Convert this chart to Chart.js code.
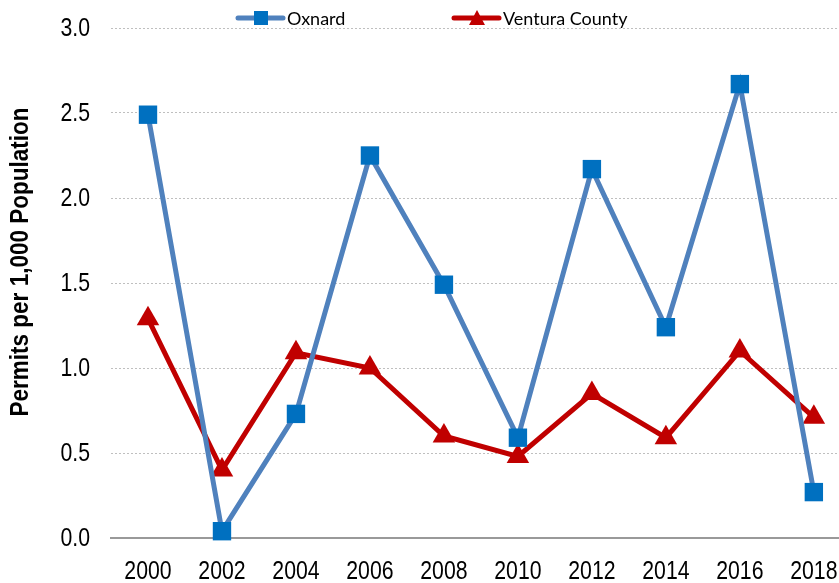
<!DOCTYPE html>
<html>
<head>
<meta charset="utf-8">
<script src="https://cdn.jsdelivr.net/npm/chart.js@4.4.0/dist/chart.umd.min.js"></script>
<style>
  html, body { margin: 0; padding: 0; background: #fff; overflow: hidden; }
  #box { width: 839px; height: 583px; position: relative; }
</style>
</head>
<body>
<div id="box"><canvas id="chart"></canvas></div>
<script>
// datos
const years = [2000, 2002, 2004, 2006, 2008, 2010, 2012, 2014, 2016, 2018];
const oxnard = [2.49, 0.04, 0.73, 2.25, 1.49, 0.59, 2.17, 1.24, 2.67, 0.27];
const ventura = [1.29, 0.40, 1.09, 1.00, 0.60, 0.48, 0.85, 0.59, 1.10, 0.71];
const yTicks = [0, 0.5, 1, 1.5, 2, 2.5, 3];

//Texto estrecho (no hay Arial Narrow instalada, se comprime a mano)
function narrowText(ctx, text, x, y, font, squeeze, align) {
  ctx.save();
  ctx.font = font;
  ctx.textAlign = align;
  ctx.textBaseline = "middle";
  ctx.translate(x, y);
  ctx.scale(squeeze, 1);
  ctx.fillText(text, 0, 0);
  ctx.restore();
}

//Etiquetas de los ejes, titulo del eje Y y leyenda
const labelsPlugin = {
  id: "labelsAndLegend",
  afterDraw(chart) {
    const ctx = chart.ctx;
    const tickFont = "25px 'Liberation Sans', Arial";
    ctx.save();
    ctx.fillStyle = "#000";

    const yScale = chart.scales.y;
    yTicks.forEach((v) => {
      narrowText(ctx, v.toFixed(1), 90, yScale.getPixelForValue(v) + 1, tickFont, 0.85, "right");
    });
    const xScale = chart.scales.x;
    years.forEach((yr) => {
      narrowText(ctx, String(yr), xScale.getPixelForValue(yr), 572, tickFont, 0.85, "center");
    });

    //Titulo del eje Y
    ctx.save();
    ctx.translate(21, 262);
    ctx.rotate(-Math.PI / 2);
    narrowText(ctx, "Permits per 1,000 Population", 0, 0, "bold 25px 'Liberation Sans', Arial", 0.9, "center");
    ctx.restore();

    //Leyenda: linea + marcador + texto
    const items = [
      { x: 238, text: "Oxnard", line: "rgb(79,129,189)", fill: "rgb(0,112,192)", shape: "rect" },
      { x: 454, text: "Ventura County", line: "rgb(192,0,0)", fill: "rgb(192,0,0)", shape: "tri" },
    ];
    const y = 18;
    items.forEach((it) => {
      ctx.strokeStyle = it.line;
      ctx.lineWidth = 5;
      ctx.lineCap = "round";
      ctx.beginPath();
      ctx.moveTo(it.x, y);
      ctx.lineTo(it.x + 45, y);
      ctx.stroke();
      ctx.fillStyle = it.fill;
      const cx = it.x + 23;
      if (it.shape === "rect") {
        ctx.fillRect(cx - 7, y - 7, 14, 14);
      } else {
        ctx.beginPath();
        ctx.moveTo(cx, y - 8);
        ctx.lineTo(cx + 8, y + 7);
        ctx.lineTo(cx - 8, y + 7);
        ctx.closePath();
        ctx.fill();
      }
      ctx.fillStyle = "#000";
      ctx.font = "18px Lato, 'Noto Sans', sans-serif";
      ctx.textBaseline = "middle";
      ctx.textAlign = "left";
      ctx.fillText(it.text, it.x + 49, y + 1);
    });
    ctx.restore();
  },
};

const chart = new Chart(document.getElementById("chart"), {
  type: "line",
  data: {
    datasets: [
      {
        label: "Oxnard",
        data: years.map((yr, i) => ({ x: yr, y: oxnard[i] })),
        borderColor: "rgb(79,129,189)",
        backgroundColor: "rgb(0,112,192)",
        pointBackgroundColor: "rgb(0,112,192)",
        pointBorderWidth: 0,
        pointStyle: "rect",
        pointRadius: 13,
        borderWidth: 5,
        tension: 0,
        clip: false,
      },
      {
        label: "Ventura County",
        data: years.map((yr, i) => ({ x: yr, y: ventura[i] })),
        borderColor: "rgb(192,0,0)",
        backgroundColor: "rgb(192,0,0)",
        pointBackgroundColor: "rgb(192,0,0)",
        pointBorderWidth: 0,
        pointStyle: "triangle",
        pointRadius: 13,
        borderWidth: 5,
        tension: 0,
        clip: false,
      },
    ],
  },
  options: {
    responsive: true,
    maintainAspectRatio: false,
    animation: false,
    layout: { autoPadding: false, padding: { top: 28, right: 0, bottom: 0, left: 0 } },
    plugins: {
      legend: { display: false },
      tooltip: { enabled: false },
    },
    scales: {
      x: {
        type: "linear",
        min: 1999,
        max: 2018.68,
        grid: { display: false, drawTicks: false },
        border: { display: true, color: "#999", width: 2 },
        ticks: { display: false },
        afterFit: (scale) => { scale.height = 45; },
      },
      y: {
        min: 0,
        max: 3,
        grid: { color: "#bfbfbf", lineWidth: 1, drawTicks: false },
        border: { display: false, dash: [2, 2] },
        ticks: { display: false, stepSize: 0.5 },
        afterFit: (scale) => { scale.width = 111; },
      },
    },
  },
  plugins: [labelsPlugin],
});
</script>
</body>
</html>
